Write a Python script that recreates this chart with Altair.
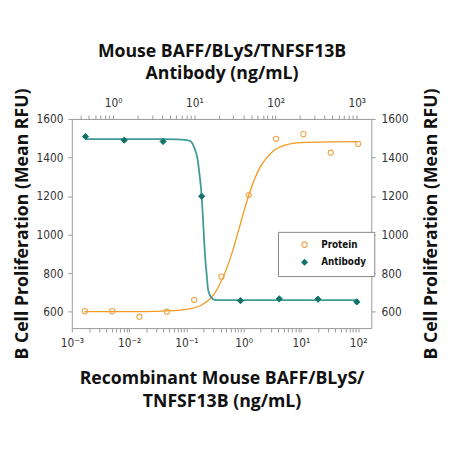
import pandas as pd
import altair as alt

# Protein (bottom axis), 3-fold dilutions
protein_conc = [0.00169, 0.00508, 0.0152, 0.0457, 0.137, 0.412, 1.23, 3.70, 11.1, 33.3, 100]
protein_rfu = [603, 603, 574, 600, 662, 782, 1205, 1497, 1521, 1425, 1471]

# Antibody (top axis)
antibody_conc = [0.457, 1.37, 4.12, 12.3, 37.0, 111, 333, 1000]
antibody_rfu = [1509, 1490, 1483, 1199, 657, 667, 665, 651]

# fitted curves
protein_fit_conc = [0.00169, 0.01, 0.03, 0.1, 0.178, 0.316, 0.562, 0.794, 1.0, 1.23, 1.78, 3.16, 5.62, 10, 31.6, 100]
protein_fit_rfu = [600, 600, 602, 612, 632, 698, 861, 1009, 1115, 1204, 1328, 1429, 1466, 1477, 1481, 1482]
antibody_fit_conc = [0.457, 1, 3, 6, 8, 9, 10, 10.9, 11.6, 12.3, 12.9, 13.5, 14.2, 14.8, 16.2, 17.8, 25, 100, 1000]
antibody_fit_rfu = [1495, 1495, 1495, 1494, 1490, 1484, 1450, 1397, 1310, 1200, 1050, 900, 790, 712, 673, 662, 660, 660, 660]

series = ["Protein", "Antibody"]
bottom_decades = [-3, -2, -1, 0, 1, 2]
top_decades = [-1, 0, 1, 2, 3]
y_ticks = [600, 800, 1000, 1200, 1400, 1600]

ORANGE = "#f2a447"
ORANGE_LINE = "#f39a1e"
TEAL = "#0e7268"
TEAL_LINE = "#3f9b94"
LABEL_FONT = "Liberation Sans Narrow, DejaVu Sans Condensed, sans-serif"
TITLE_FONT = "Open Sans"

bottom_dom = [0.001, 170]
top_dom = [0.31, 1510]
y_dom = [515, 1600]


def log_ticks(decades, lo, hi):
    vals = []
    for d in decades:
        for k in range(1, 10):
            v = float(f"{k}e{d}")
            if lo <= v <= hi:
                vals.append(v)
    return vals


sup = "['⁰','¹','²','³']"
label_expr = ("abs(log(datum.value)/LN10 - round(log(datum.value)/LN10)) < 0.001 ? "
              "'10' + (datum.value < 1 ? '⁻' : '') + " + sup +
              "[abs(round(log(datum.value)/LN10))] : ''")

axis_style = dict(grid=False, domainColor="#999999", tickColor="#999999",
                  labelColor="#333333", labelFont=LABEL_FONT, labelFontSize=12,
                  titleFont=TITLE_FONT, titleFontSize=18, titleFontWeight="bold",
                  titleColor="#111111", tickSize=4)

x_bottom = alt.Axis(orient="bottom", values=log_ticks(bottom_decades, *bottom_dom),
                    labelExpr=label_expr, labelOverlap=False, labelFlush=False,
                    title=["Recombinant Mouse BAFF/BLyS/", "TNFSF13B (ng/mL)"],
                    titleLineHeight=24, titlePadding=21, labelPadding=6, **axis_style)
x_top = alt.Axis(orient="top", values=log_ticks(top_decades, *top_dom),
                 labelExpr=label_expr, labelOverlap=False, labelFlush=False,
                 title=["Mouse BAFF/BLyS/TNFSF13B", "Antibody (ng/mL)"],
                 titleLineHeight=23, titlePadding=14, labelPadding=6, **axis_style)
y_left = alt.Axis(orient="left", values=y_ticks, format="d", title="B Cell Proliferation (Mean RFU)",
                  titlePadding=5, labelPadding=5, **axis_style)
y_right = alt.Axis(orient="right", values=y_ticks, format="d", title="B Cell Proliferation (Mean RFU)",
                   titleAngle=270, titleBaseline="top", titlePadding=15, labelPadding=6,
                   **axis_style)

legend = alt.Legend(title=None, orient="none", legendX=210, legendY=115, padding=8,
                    strokeColor="#888888", fillColor="white", symbolOffset=14,
                    labelFont=LABEL_FONT, labelFontSize=10, labelFontWeight="bold",
                    labelColor="#111111", labelOffset=12, rowPadding=6,
                    symbolSize=30, symbolStrokeWidth=1.2)

shape = alt.Shape("series:N", scale=alt.Scale(domain=series, range=["circle", "diamond"]), legend=legend)
fill = alt.Fill("series:N", scale=alt.Scale(domain=series, range=["transparent", TEAL]), legend=legend)
stroke = alt.Stroke("series:N", scale=alt.Scale(domain=series, range=[ORANGE, TEAL]), legend=legend)

protein_pts = pd.DataFrame({"conc": protein_conc, "rfu": protein_rfu, "series": "Protein"})
antibody_pts = pd.DataFrame({"conc": antibody_conc, "rfu": antibody_rfu, "series": "Antibody"})
protein_fit = pd.DataFrame({"conc": protein_fit_conc, "rfu": protein_fit_rfu})
antibody_fit = pd.DataFrame({"conc": antibody_fit_conc, "rfu": antibody_fit_rfu})

yb = alt.Scale(domain=y_dom, nice=False, zero=False)
xb = alt.Scale(type="log", domain=bottom_dom, nice=False)
xt = alt.Scale(type="log", domain=top_dom, nice=False)

protein_line = alt.Chart(protein_fit).mark_line(interpolate="monotone", strokeWidth=1.3).encode(
    x=alt.X("conc:Q", scale=xb, axis=x_bottom),
    y=alt.Y("rfu:Q", scale=yb, axis=y_left),
    color=alt.value(ORANGE_LINE),
)
protein_dots = alt.Chart(protein_pts).mark_point(size=28, strokeWidth=1.1, opacity=1).encode(
    x=alt.X("conc:Q", scale=xb, axis=x_bottom),
    y=alt.Y("rfu:Q", scale=yb, axis=y_left),
    shape=shape, fill=fill, stroke=stroke,
)

antibody_line = alt.Chart(antibody_fit).mark_line(interpolate="monotone", strokeWidth=1.8).encode(
    x=alt.X("conc:Q", scale=xt, axis=x_top),
    y=alt.Y("rfu:Q", scale=yb, axis=y_right),
    color=alt.value(TEAL_LINE),
)
antibody_dots = alt.Chart(antibody_pts).mark_point(size=40, strokeWidth=1, opacity=1).encode(
    x=alt.X("conc:Q", scale=xt, axis=x_top),
    y=alt.Y("rfu:Q", scale=yb, axis=y_right),
    shape=shape, fill=fill, stroke=stroke,
)

chart = alt.layer(
    alt.layer(protein_line, protein_dots),
    alt.layer(antibody_line, antibody_dots),
).resolve_scale(x="independent", y="independent").properties(
    width=305, height=213,
    autosize=alt.AutoSizeParams(type="none"),
    padding={"left": 65, "top": 109, "right": 72, "bottom": 112},
).configure_view(stroke=None)

chart.save("out.html", embed_options={"renderer": "svg", "actions": False})
